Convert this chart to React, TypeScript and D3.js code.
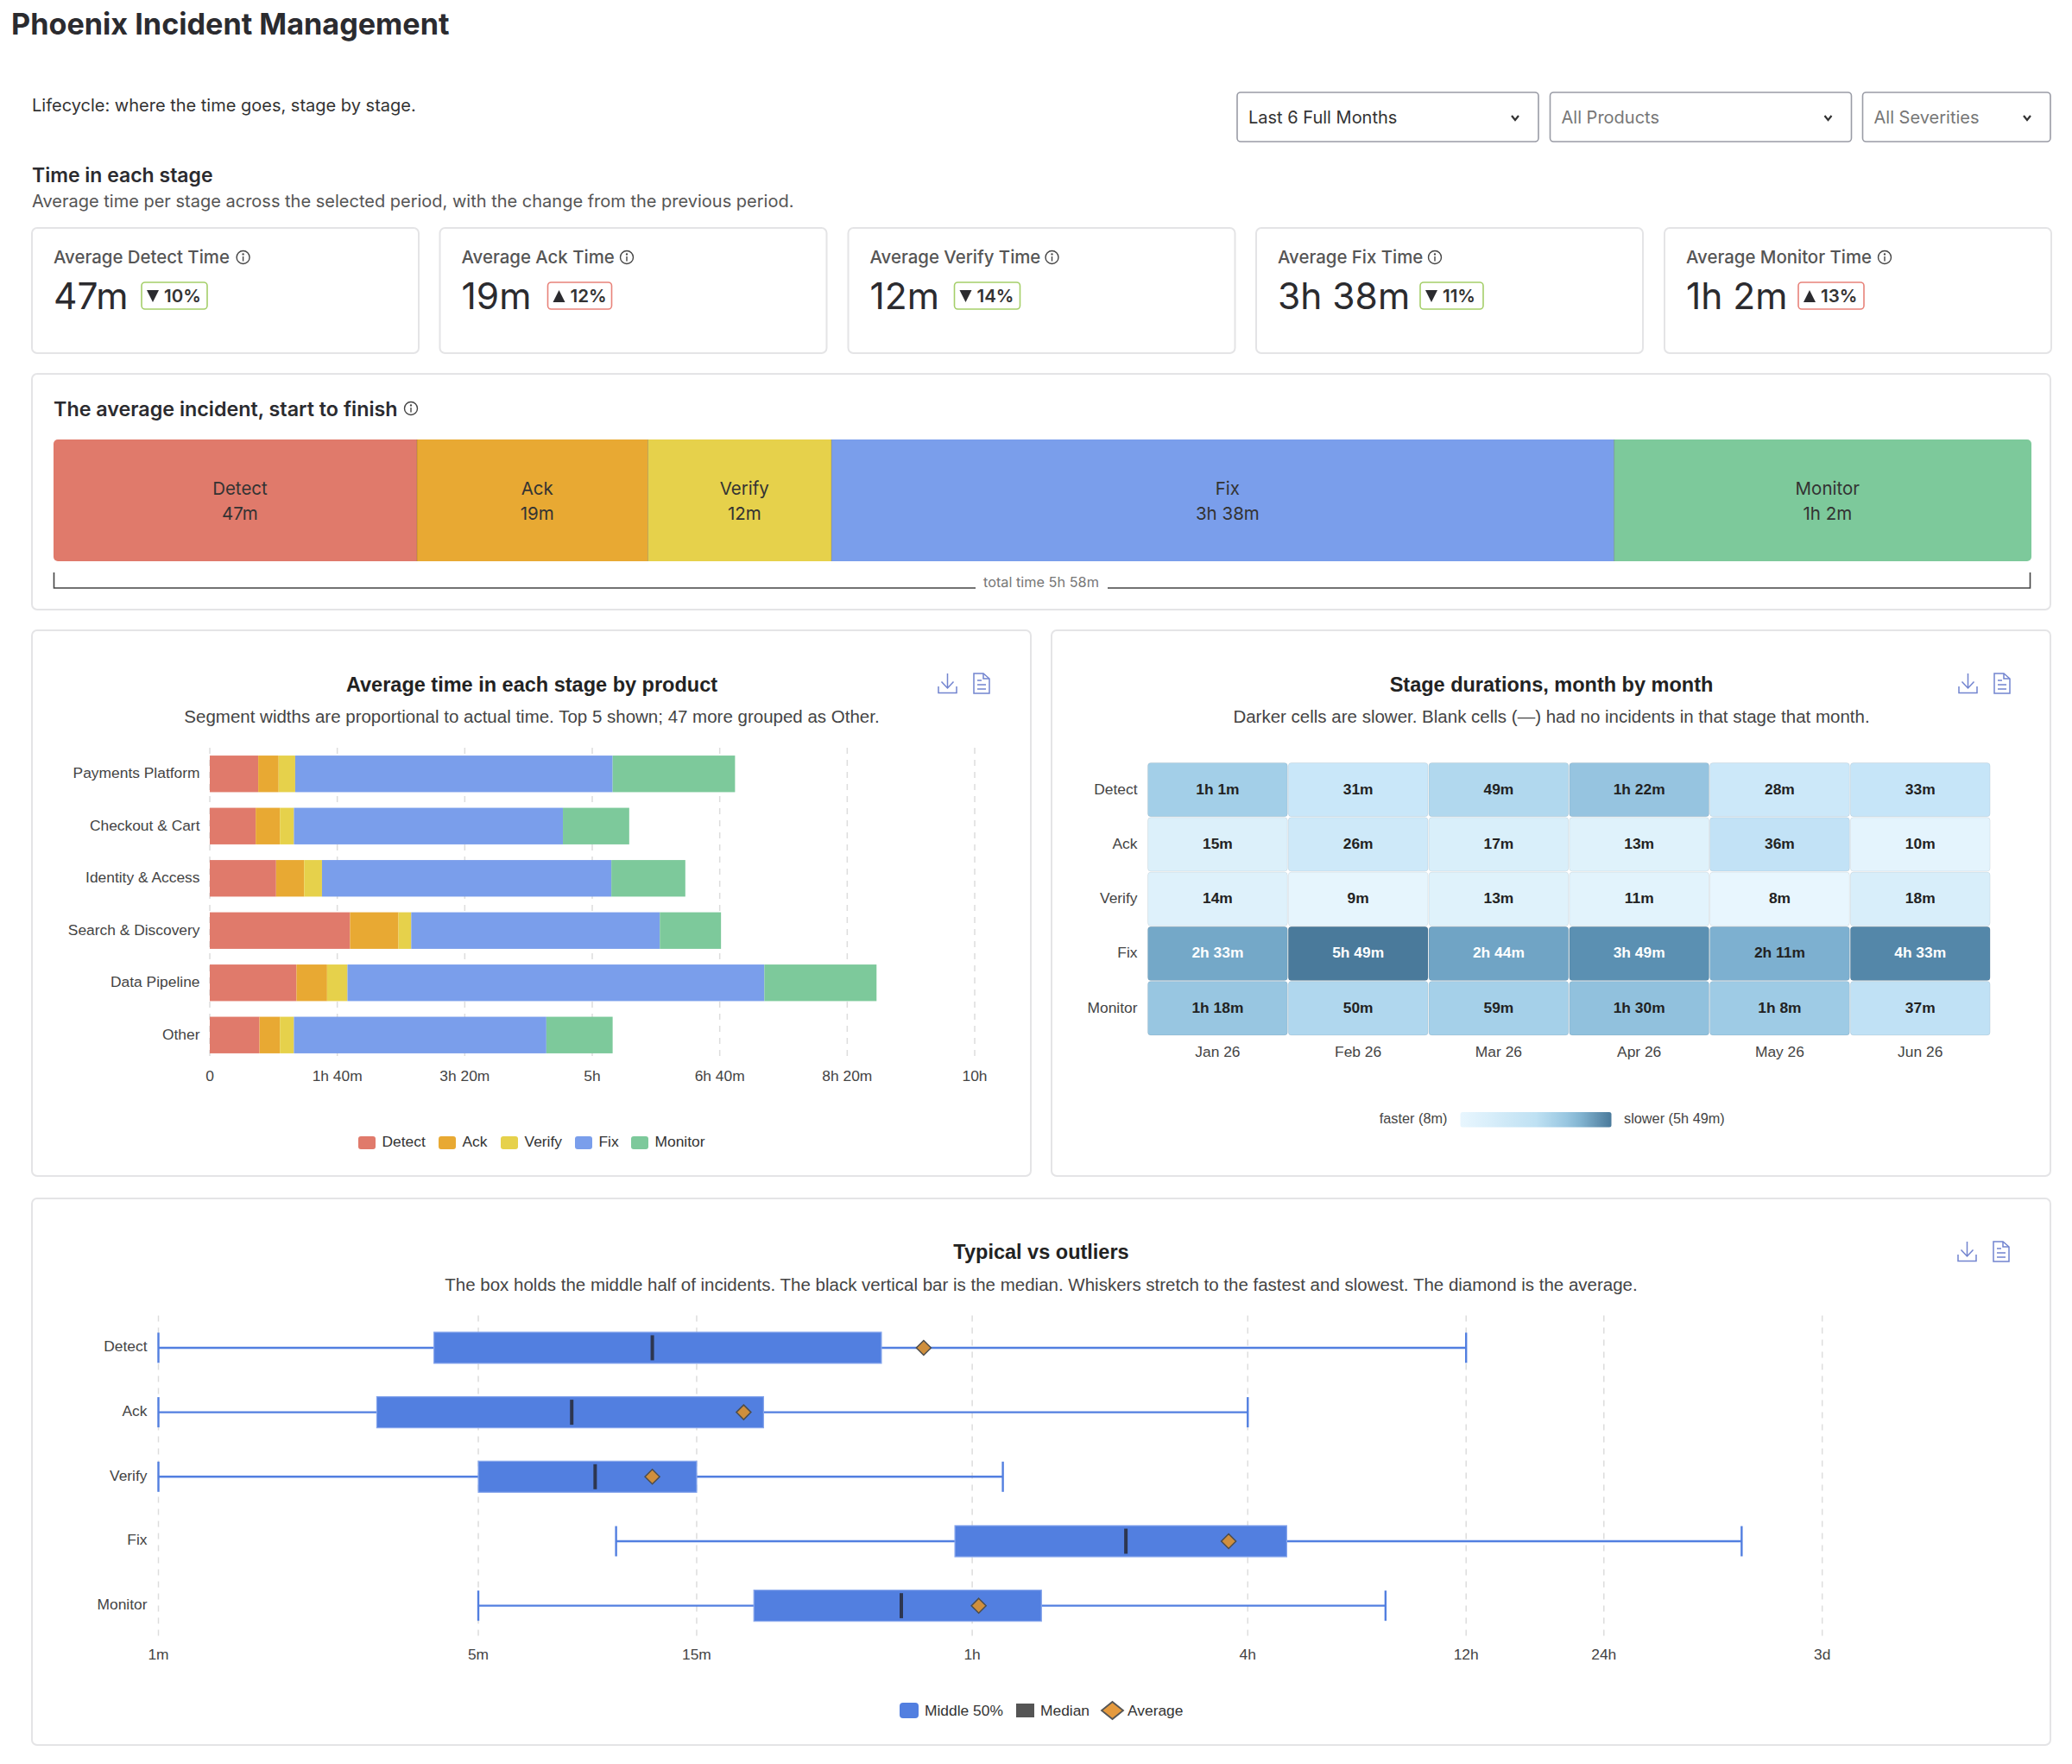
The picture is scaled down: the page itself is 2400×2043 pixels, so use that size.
import * as d3 from "d3";

const stages = ["Detect", "Ack", "Verify", "Fix", "Monitor"];
const stageMinutes = [47, 19, 12, 218, 62];
const stageLabels = ["47m", "19m", "12m", "3h 38m", "1h 2m"];
const stageChanges = ["10%", "12%", "14%", "11%", "13%"];
const stageChangeDown = [true, false, true, true, false];

const products = [
  "Payments Platform",
  "Checkout & Cart",
  "Identity & Access",
  "Search & Discovery",
  "Data Pipeline",
  "Other",
];
const detectByProduct = [38, 36, 52, 110, 68, 39];
const ackByProduct = [16, 19, 22, 38, 24, 16];
const verifyByProduct = [13, 11, 14, 10, 16, 11];
const fixByProduct = [249, 211, 227, 195, 327, 198];
const monitorByProduct = [96, 52, 58, 48, 88, 52];
const productTicks = [0, 100, 200, 300, 400, 500, 600];

const months = ["Jan 26", "Feb 26", "Mar 26", "Apr 26", "May 26", "Jun 26"];
const detectByMonth = [61, 31, 49, 82, 28, 33];
const ackByMonth = [15, 26, 17, 13, 36, 10];
const verifyByMonth = [14, 9, 13, 11, 8, 18];
const fixByMonth = [153, 349, 164, 229, 131, 273];
const monitorByMonth = [78, 50, 59, 90, 68, 37];

const boxMin = [1, 1, 1, 10, 5];
const boxQ1 = [4, 3, 5, 55, 20];
const boxMedian = [12, 8, 9, 130, 42];
const boxAverage = [47, 19, 12, 218, 62];
const boxQ3 = [38, 21, 15, 292, 85];
const boxMax = [720, 240, 70, 2880, 480];
const boxTicks = [1, 5, 15, 60, 240, 720, 1440, 4320];
const boxTickLabels = ["1m", "5m", "15m", "1h", "4h", "12h", "24h", "3d"];

const stageColors = ["#e07a6b", "#e8a933", "#e6d14b", "#7a9eeb", "#7dc99b"];
const UI_FONT = "Inter, sans-serif";
const CHART_FONT = "'Liberation Sans', Arial, sans-serif";
const ICON_BLUE = "#7284cf";
const BOX_BLUE = "#527fe0";
const LABEL_SIZE = 17.4;

function fmt(mins: number) {
  const h = Math.floor(mins / 60);
  const m = mins % 60;
  if (h === 0) return `${m}m`;
  return m === 0 ? `${h}h` : `${h}h ${m}m`;
}

function Panel({ x, y, w, h }: { x: number; y: number; w: number; h: number }) {
  return <rect x={x} y={y} width={w} height={h} rx={6} fill="#fff" stroke="#e4e4e6" strokeWidth={2} />;
}

function InfoIcon({ cx, cy }: { cx: number; cy: number }) {
  return (
    <g fill="none" stroke="#444" strokeWidth={1.4}>
      <circle cx={cx} cy={cy} r={7.5} />
      <path d={`M${cx} ${cy - 1}V${cy + 4.5}`} />
      <circle cx={cx} cy={cy - 3.6} r={0.5} />
    </g>
  );
}

function ExportIcons({ x, y }: { x: number; y: number }) {
  return (
    <g fill="none" stroke={ICON_BLUE} strokeWidth={1.5}>
      <path d={`M${x + 10.5} ${y}V${y + 16}M${x + 3.5} ${y + 9.5}L${x + 10.5} ${y + 17}L${x + 17.5} ${y + 9.5}`} />
      <path d={`M${x} ${y + 15}V${y + 22.5}H${x + 21}V${y + 15}`} />
      <path d={`M${x + 41} ${y}H${x + 52}L${x + 59} ${y + 6}V${y + 23}H${x + 41}Z`} />
      <path d={`M${x + 52} ${y}V${y + 6}H${x + 59}M${x + 45} ${y + 8}H${x + 50}M${x + 45} ${y + 13}H${x + 55}M${x + 45} ${y + 18}H${x + 55}`} />
    </g>
  );
}

function Dropdown({ x, w, label, active }: { x: number; w: number; label: string; active?: boolean }) {
  const cx = x + w - 27;
  return (
    <g>
      <rect x={x} y={107} width={w} height={57} rx={4} fill="#fff" stroke="#9a9ca6" strokeWidth={1.6} />
      <text x={x + 13} y={143} fontSize={20} fill={active ? "#333" : "#777"}>{label}</text>
      <path d={`M${cx - 4} 134L${cx} 139L${cx + 4} 134`} fill="none" stroke="#333" strokeWidth={2.2} />
    </g>
  );
}

function KpiCards() {
  const cardX = [37, 509.5, 982.5, 1455, 1928];
  const widths = [76, 74, 76, 73, 76];
  const valueW = [85, 83, 81, 148, 113];
  const labelW = [206.6, 178.5, 198, 169, 217];
  return (
    <g>
      {stages.map((s, i) => {
        const x = cardX[i];
        const bx = x + 25 + valueW[i] + 17;
        const green = stageChangeDown[i];
        return (
          <g key={s}>
            <Panel x={x} y={264} w={448} h={145} />
            <text x={x + 25} y={305} fontSize={20.4} fontWeight={500} fill="#555">{`Average ${s} Time`}</text>
            <InfoIcon cx={x + 25 + labelW[i] + 13} cy={298} />
            <text x={x + 25} y={358} fontSize={42.5} fill="#2b2b2f">{stageLabels[i]}</text>
            <rect x={bx} y={327} width={widths[i]} height={31} rx={4} fill="#fff" stroke={green ? "#a5cf6a" : "#e8837a"} strokeWidth={1.6} />
            <path
              d={green
                ? `M${bx + 6} 336H${bx + 20}L${bx + 13} 350Z`
                : `M${bx + 6} 350H${bx + 20}L${bx + 13} 336Z`}
              fill="#2b2b2f"
            />
            <text x={bx + 26} y={350} fontSize={20.5} fontWeight={600} fill="#333">{stageChanges[i]}</text>
          </g>
        );
      })}
    </g>
  );
}

function Lifecycle() {
  // segment widths follow the square root of the time
  const roots = stageMinutes.map((m) => Math.sqrt(m));
  const x = d3.scaleLinear().domain([0, d3.sum(roots)]).range([62, 2353]);
  const starts = d3.cumsum([0, ...roots]);
  return (
    <g>
      <Panel x={37} y={433} w={2338} h={273} />
      <text x={62} y={482} fontSize={23.3} fontWeight={600} fill="#2b2b2f">The average incident, start to finish</text>
      <InfoIcon cx={476} cy={473} />
      <clipPath id="lifeclip">
        <rect x={62} y={509} width={2291} height={141} rx={5} />
      </clipPath>
      <g clipPath="url(#lifeclip)">
        {stages.map((s, i) => (
          <rect key={s} x={x(starts[i])} y={509} width={x(starts[i + 1]) - x(starts[i])} height={141} fill={stageColors[i]} />
        ))}
        {stages.slice(1).map((s, i) => (
          <line key={s} x1={x(starts[i + 1])} x2={x(starts[i + 1])} y1={509} y2={650} stroke="#000" strokeOpacity={0.2} />
        ))}
      </g>
      {stages.map((s, i) => {
        const mid = (x(starts[i]) + x(starts[i + 1])) / 2 + 5.5;
        return (
          <g key={s} textAnchor="middle" fontSize={20.5} fill="#333">
            <text x={mid} y={573}>{s}</text>
            <text x={mid} y={602}>{stageLabels[i]}</text>
          </g>
        );
      })}
      <path d="M62.5 663V681H1130M1283 681H2351.5V663" fill="none" stroke="#444" strokeWidth={1.6} />
      <text x={1206} y={680} textAnchor="middle" fontSize={16.3} fill="#777">total time 5h 58m</text>
    </g>
  );
}

function ProductChart() {
  const x = d3.scaleLinear().domain([0, 600]).range([243, 1129]);
  const y = d3.scaleBand().domain(products).range([866, 1229]).paddingInner(0.3).paddingOuter(0.15);
  const rows = products.map((p, i) => ({
    product: p,
    Detect: detectByProduct[i],
    Ack: ackByProduct[i],
    Verify: verifyByProduct[i],
    Fix: fixByProduct[i],
    Monitor: monitorByProduct[i],
  }));
  const series = d3.stack<any>().keys(stages)(rows);
  const legendX = [415, 508, 580, 666, 731];
  return (
    <g fontFamily={CHART_FONT}>
      <Panel x={37} y={730} w={1157} h={632} />
      <text x={616} y={801} textAnchor="middle" fontSize={23.5} fontWeight={700} fill="#222">Average time in each stage by product</text>
      <text x={616} y={837} textAnchor="middle" fontSize={20.5} fill="#444">Segment widths are proportional to actual time. Top 5 shown; 47 more grouped as Other.</text>
      <ExportIcons x={1087} y={780} />
      {productTicks.map((t) => (
        <g key={t}>
          <line x1={x(t)} x2={x(t)} y1={866} y2={1229} stroke="#ddd" strokeWidth={1.5} strokeDasharray="7 7" />
          <text x={x(t)} y={1252} textAnchor="middle" fontSize={LABEL_SIZE} fill="#444">{t === 0 ? "0" : fmt(t)}</text>
        </g>
      ))}
      {series.map((s, i) => (
        <g key={s.key} fill={stageColors[i]}>
          {s.map((d) => (
            <rect key={d.data.product} x={x(d[0])} y={y(d.data.product)} width={x(d[1]) - x(d[0])} height={y.bandwidth()} />
          ))}
        </g>
      ))}
      {products.map((p) => (
        <text key={p} x={231.5} y={y(p)! + y.bandwidth() / 2 + 5} textAnchor="end" fontSize={LABEL_SIZE} fill="#444">{p}</text>
      ))}
      {stages.map((s, i) => (
        <g key={s}>
          <rect x={legendX[i]} y={1316} width={20} height={15} rx={3} fill={stageColors[i]} />
          <text x={legendX[i] + 27.5} y={1328} fontSize={LABEL_SIZE} fill="#333">{s}</text>
        </g>
      ))}
    </g>
  );
}

function Heatmap() {
  const rowsData = [detectByMonth, ackByMonth, verifyByMonth, fixByMonth, monitorByMonth];
  const x = d3.scaleBand().domain(months).range([1329, 2305.6]);
  const y = d3.scaleBand().domain(stages).range([883, 1199.4]);
  const color = d3
    .scaleSqrt<string>()
    .domain([8, 15, 31, 61, 131, 229, 349])
    .range(["#e8f6fe", "#dcf0fa", "#c9e7f9", "#a3cfe8", "#7db0d0", "#5b90b2", "#4a7a9b"]);
  const legendColor = d3
    .scaleLinear<string>()
    .domain([0, 0.5, 0.75, 1])
    .range(["#e8f6fe", "#bfe1f3", "#8fc1dd", "#4a7a9b"]);
  const stops = d3.range(0, 1.01, 0.1);
  return (
    <g fontFamily={CHART_FONT}>
      <Panel x={1218} y={730} w={1157} h={632} />
      <text x={1797} y={801} textAnchor="middle" fontSize={23.5} fontWeight={700} fill="#222">Stage durations, month by month</text>
      <text x={1797} y={837} textAnchor="middle" fontSize={20.5} fill="#444">Darker cells are slower. Blank cells (—) had no incidents in that stage that month.</text>
      <ExportIcons x={2269} y={780} />
      {stages.map((s, r) => (
        <g key={s}>
          <text x={1317.5} y={y(s)! + y.bandwidth() / 2 + 5} textAnchor="end" fontSize={LABEL_SIZE} fill="#444">{s}</text>
          {months.map((m, c) => {
            const v = rowsData[r][c];
            const dark = v > 140;
            return (
              <g key={m}>
                <rect x={x(m)! + 0.5} y={y(s)! + 0.5} width={x.bandwidth() - 1} height={y.bandwidth() - 1} rx={3.5} fill={color(v)} stroke="#000" strokeOpacity={0.07} />
                <text x={x(m)! + x.bandwidth() / 2} y={y(s)! + y.bandwidth() / 2 + 5} textAnchor="middle" fontSize={LABEL_SIZE} fontWeight={700} fill={dark ? "#fff" : "#222"}>{fmt(v)}</text>
              </g>
            );
          })}
        </g>
      ))}
      {months.map((m) => (
        <text key={m} x={x(m)! + x.bandwidth() / 2} y={1224} textAnchor="middle" fontSize={LABEL_SIZE} fill="#444">{m}</text>
      ))}
      <defs>
        <linearGradient id="heatLegend">
          {stops.map((t) => (
            <stop key={t} offset={t} stopColor={legendColor(t)} />
          ))}
        </linearGradient>
      </defs>
      <text x={1676.5} y={1301} textAnchor="end" fontSize={16.3} fill="#444">faster (8m)</text>
      <rect x={1691.5} y={1288} width={175} height={17.5} rx={2.5} fill="url(#heatLegend)" />
      <text x={1881} y={1301} fontSize={16.3} fill="#444">slower (5h 49m)</text>
    </g>
  );
}

function BoxChart() {
  const x = d3.scaleLog().domain([1, 4320]).range([183.5, 2110.7]);
  const y = d3.scaleBand().domain(stages).range([1523.6, 1897]);
  const diamond = d3.line()([[0, -8.5], [8.5, 0], [0, 8.5], [-8.5, 0]]) + "Z";
  const legendDiamond = d3.line()([[0, -10], [12.5, 0], [0, 10], [-12.5, 0]]) + "Z";
  return (
    <g fontFamily={CHART_FONT}>
      <Panel x={37} y={1388} w={2338} h={633} />
      <text x={1206} y={1458} textAnchor="middle" fontSize={23.5} fontWeight={700} fill="#222">Typical vs outliers</text>
      <text x={1206} y={1495} textAnchor="middle" fontSize={20.5} fill="#444">The box holds the middle half of incidents. The black vertical bar is the median. Whiskers stretch to the fastest and slowest. The diamond is the average.</text>
      <ExportIcons x={2268} y={1438} />
      {boxTicks.map((t, i) => (
        <g key={t}>
          <line x1={x(t)} x2={x(t)} y1={1523.6} y2={1897} stroke="#ddd" strokeWidth={1.5} strokeDasharray="7 7" />
          <text x={x(t)} y={1922} textAnchor="middle" fontSize={LABEL_SIZE} fill="#444">{boxTickLabels[i]}</text>
        </g>
      ))}
      {stages.map((s, i) => {
        const cy = y(s)! + y.bandwidth() / 2;
        return (
          <g key={s}>
            <text x={170.5} y={cy + 4.5} textAnchor="end" fontSize={LABEL_SIZE} fill="#444">{s}</text>
            <g stroke={BOX_BLUE} strokeWidth={2.4}>
              <line x1={x(boxMin[i])} x2={x(boxMax[i])} y1={cy} y2={cy} />
              <line x1={x(boxMin[i])} x2={x(boxMin[i])} y1={cy - 17.5} y2={cy + 17.5} />
              <line x1={x(boxMax[i])} x2={x(boxMax[i])} y1={cy - 17.5} y2={cy + 17.5} />
            </g>
            <rect x={x(boxQ1[i])} y={cy - 18} width={x(boxQ3[i]) - x(boxQ1[i])} height={36} fill={BOX_BLUE} stroke="#86a5ec" strokeWidth={1.2} />
            <line x1={x(boxMedian[i])} x2={x(boxMedian[i])} y1={cy - 14.5} y2={cy + 14.5} stroke="#2d3650" strokeWidth={4} />
            <path d={diamond} transform={`translate(${x(boxAverage[i])},${cy})`} fill="#cf8f3d" stroke="#4d4d4d" strokeWidth={1.5} />
          </g>
        );
      })}
      <rect x={1042} y={1972} width={22} height={18} rx={4} fill={BOX_BLUE} />
      <text x={1071} y={1987} fontSize={LABEL_SIZE} fill="#333">Middle 50%</text>
      <rect x={1177} y={1973} width={21} height={16} fill="#555" />
      <text x={1205} y={1987} fontSize={LABEL_SIZE} fill="#333">Median</text>
      <path d={legendDiamond} transform="translate(1288.5,1981)" fill="#e59a3e" stroke="#555" strokeWidth={1.8} />
      <text x={1306} y={1987} fontSize={LABEL_SIZE} fill="#333">Average</text>
    </g>
  );
}

export default function App() {
  return (
    <svg
      width={2400}
      height={2043}
      viewBox="0 0 2400 2043"
      fontFamily={UI_FONT}
      style={{ position: "absolute", left: 0, top: 0, background: "#fff" }}
    >
      <text x={13} y={40} fontSize={34.2} fontWeight={700} fill="#2b2b2f">Phoenix Incident Management</text>
      <text x={37} y={128.5} fontSize={20} fill="#333">Lifecycle: where the time goes, stage by stage.</text>
      <Dropdown x={1433} w={349} label="Last 6 Full Months" active />
      <Dropdown x={1795.5} w={349} label="All Products" />
      <Dropdown x={2157.5} w={217.5} label="All Severities" />
      <text x={37} y={211} fontSize={23} fontWeight={600} fill="#2b2b2f">Time in each stage</text>
      <text x={37} y={240} fontSize={20} fill="#555">Average time per stage across the selected period, with the change from the previous period.</text>
      <KpiCards />
      <Lifecycle />
      <ProductChart />
      <Heatmap />
      <BoxChart />
    </svg>
  );
}
